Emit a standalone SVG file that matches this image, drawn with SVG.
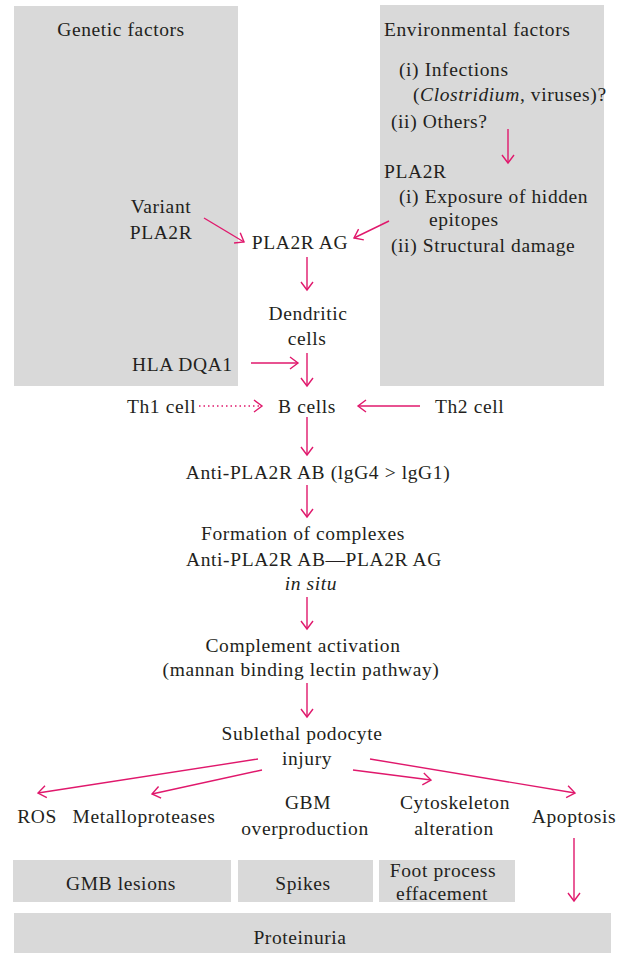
<svg xmlns="http://www.w3.org/2000/svg" width="628" height="953" viewBox="0 0 628 953">
<style>
text{font-family:"Liberation Serif","DejaVu Serif",serif;font-size:19.5px;letter-spacing:0.6px;fill:#231f20}
.m{text-anchor:middle}
.box{fill:#d9d9d9}
.c{stroke:#e0186c;stroke-width:1.4;fill:none;marker-end:url(#ah)}
.d{stroke-dasharray:1.5 3}
</style>
<defs>
<marker id="ah" markerWidth="12" markerHeight="14" refX="9" refY="7" orient="auto" markerUnits="userSpaceOnUse">
<path d="M1,1 L9,7 L1,13" fill="none" stroke="#e0186c" stroke-width="1.4"/>
</marker>
</defs>
<rect width="628" height="953" fill="#fff"/>
<g id="genetic"><rect class="box" x="14" y="6" width="224" height="380"/><text class="m" x="121" y="36">Genetic factors</text></g>
<g id="environmental"><rect class="box" x="380" y="5" width="224" height="381"/>
<text x="384" y="36">Environmental factors</text>
<text x="399" y="76">(i) Infections</text>
<text x="413" y="101">(<tspan font-style="italic">Clostridium</tspan>, viruses)?</text>
<text x="391" y="128">(ii) Others?</text>
<text x="384" y="178">PLA2R</text>
<text x="399" y="203">(i) Exposure of hidden</text>
<text x="429" y="226">epitopes</text>
<text x="391" y="252">(ii) Structural damage</text>
</g>
<g id="variant"><text class="m" x="161" y="213">Variant</text><text class="m" x="161" y="239">PLA2R</text></g>
<g id="pla2rag"><text class="m" x="300" y="249">PLA2R AG</text></g>
<g id="dendritic"><text class="m" x="308" y="320">Dendritic</text><text class="m" x="307" y="345">cells</text></g>
<g id="hla"><text x="132" y="371">HLA DQA1</text></g>
<g id="th1"><text x="127" y="413">Th1 cell</text></g>
<g id="bcells"><text class="m" x="307" y="413">B cells</text></g>
<g id="th2"><text x="435" y="413">Th2 cell</text></g>
<g id="antibody"><text class="m" x="318" y="479">Anti-PLA2R AB (lgG4 &gt; lgG1)</text></g>
<g id="complexes"><text class="m" x="303" y="540">Formation of complexes</text><text class="m" x="314" y="566">Anti-PLA2R AB—PLA2R AG</text><text class="m" x="311" y="590" font-style="italic">in situ</text></g>
<g id="complement"><text class="m" x="303" y="652">Complement activation</text><text class="m" x="301" y="676">(mannan binding lectin pathway)</text></g>
<g id="injury"><text class="m" x="302" y="740">Sublethal podocyte</text><text class="m" x="307" y="765">injury</text></g>
<g id="ros"><text class="m" x="37" y="823">ROS</text></g>
<g id="metallo"><text class="m" x="144" y="823">Metalloproteases</text></g>
<g id="gbm"><text class="m" x="308" y="809">GBM</text><text class="m" x="305" y="835">overproduction</text></g>
<g id="cyto"><text class="m" x="455" y="809">Cytoskeleton</text><text class="m" x="454" y="835">alteration</text></g>
<g id="apoptosis"><text class="m" x="574" y="823">Apoptosis</text></g>
<g id="gmb"><rect class="box" x="13" y="860" width="218" height="42"/><text class="m" x="121" y="890">GMB lesions</text></g>
<g id="spikes"><rect class="box" x="238" y="860" width="135" height="42"/><text class="m" x="303" y="890">Spikes</text></g>
<g id="foot"><rect class="box" x="379" y="860" width="136" height="42"/><text class="m" x="443" y="877">Foot process</text><text class="m" x="442" y="900">effacement</text></g>
<g id="proteinuria"><rect class="box" x="14" y="913" width="597" height="40"/><text class="m" x="300" y="944">Proteinuria</text></g>
<g id="connectors">
<line class="c" x1="508" y1="129" x2="508" y2="163"/>
<line class="c" x1="204" y1="218" x2="244" y2="242"/>
<line class="c" x1="389" y1="221" x2="354" y2="238"/>
<line class="c" x1="307" y1="257" x2="307" y2="290"/>
<line class="c" x1="251" y1="363" x2="298" y2="363"/>
<line class="c" x1="307" y1="353" x2="307" y2="386"/>
<line class="c d" x1="199" y1="406" x2="262" y2="406"/>
<line class="c" x1="420" y1="406" x2="358" y2="406"/>
<line class="c" x1="307" y1="417" x2="307" y2="455"/>
<line class="c" x1="307" y1="485" x2="307" y2="517"/>
<line class="c" x1="307" y1="597" x2="307" y2="629"/>
<line class="c" x1="307" y1="683" x2="307" y2="717"/>
<line class="c" x1="258" y1="759" x2="38" y2="793"/>
<line class="c" x1="262" y1="770" x2="152" y2="794"/>
<line class="c" x1="353" y1="770" x2="431" y2="780"/>
<line class="c" x1="370" y1="759" x2="575" y2="793"/>
<line class="c" x1="574" y1="838" x2="574" y2="901"/>
</g>
</svg>
